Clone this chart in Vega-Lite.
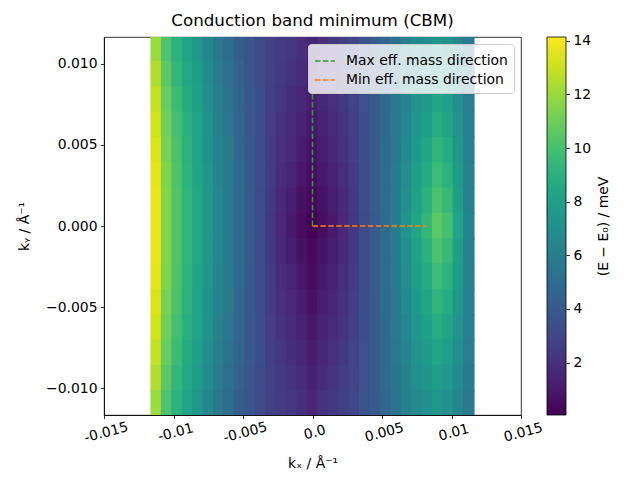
{
"$schema": "https://vega.github.io/schema/vega-lite/v6.json",
"width": 417, "height": 378,
"autosize": "none",
"padding": {"left": 104, "top": 37, "right": 119, "bottom": 65},
"config": {
  "font": "DejaVu Sans",
  "view": {"stroke": "black", "strokeWidth": 0.8},
  "axis": {"domainColor": "black", "domainWidth": 0.8, "tickColor": "black", "tickWidth": 0.8, "tickSize": 3.5, "labelColor": "black", "labelFontSize": 13.9, "labelPadding": 3.5, "titleColor": "black", "titleFontSize": 13.9, "titleFontWeight": "normal", "grid": false, "labelFont": "DejaVu Sans", "titleFont": "DejaVu Sans"},
  "legend": {"labelFont": "DejaVu Sans"}
},
"title": {"text": "Conduction band minimum (CBM)", "fontSize": 16.7, "fontWeight": "normal", "font": "DejaVu Sans", "color": "black", "offset": 4, "anchor": "middle", "frame": "group"},
"datasets": {
"dirs": [
{"d": "Max eff. mass direction", "x": 0, "y": 0, "o": 0},
{"d": "Max eff. mass direction", "x": 0, "y": 0.0082, "o": 1},
{"d": "Min eff. mass direction", "x": 0, "y": 0, "o": 0},
{"d": "Min eff. mass direction", "x": 0.0082, "y": 0, "o": 1}
],
"grid": [
{"x":-0.01125,"y":0.01092,"e":12.1},{"x":-0.0105,"y":0.01092,"e":10.2},{"x":-0.00975,"y":0.01092,"e":9.1},{"x":-0.009,"y":0.01092,"e":8.2},{"x":-0.00825,"y":0.01092,"e":7.5},{"x":-0.0075,"y":0.01092,"e":6.6},{"x":-0.00675,"y":0.01092,"e":5.7},{"x":-0.006,"y":0.01092,"e":5.0},{"x":-0.00525,"y":0.01092,"e":4.2},{"x":-0.0045,"y":0.01092,"e":3.7},{"x":-0.00375,"y":0.01092,"e":3.2},{"x":-0.003,"y":0.01092,"e":2.7},{"x":-0.00225,"y":0.01092,"e":2.5},{"x":-0.0015,"y":0.01092,"e":2.3},{"x":-0.00075,"y":0.01092,"e":1.9},{"x":0,"y":0.01092,"e":1.52},{"x":0.00075,"y":0.01092,"e":1.95},{"x":0.0015,"y":0.01092,"e":2.31},{"x":0.00225,"y":0.01092,"e":2.62},{"x":0.003,"y":0.01092,"e":2.95},{"x":0.00375,"y":0.01092,"e":3.56},{"x":0.0045,"y":0.01092,"e":4.03},{"x":0.00525,"y":0.01092,"e":4.61},{"x":0.006,"y":0.01092,"e":5.31},{"x":0.00675,"y":0.01092,"e":6.12},{"x":0.0075,"y":0.01092,"e":6.72},{"x":0.00825,"y":0.01092,"e":6.96},{"x":0.009,"y":0.01092,"e":7.42},{"x":0.00975,"y":0.01092,"e":7.13},{"x":0.0105,"y":0.01092,"e":6.56},{"x":0.01125,"y":0.01092,"e":5.76},
{"x":-0.01125,"y":0.00936,"e":12.5},{"x":-0.0105,"y":0.00936,"e":10.6},{"x":-0.00975,"y":0.00936,"e":9.4},{"x":-0.009,"y":0.00936,"e":8.5},{"x":-0.00825,"y":0.00936,"e":7.8},{"x":-0.0075,"y":0.00936,"e":6.8},{"x":-0.00675,"y":0.00936,"e":5.9},{"x":-0.006,"y":0.00936,"e":5.2},{"x":-0.00525,"y":0.00936,"e":4.4},{"x":-0.0045,"y":0.00936,"e":3.8},{"x":-0.00375,"y":0.00936,"e":3.2},{"x":-0.003,"y":0.00936,"e":2.7},{"x":-0.00225,"y":0.00936,"e":2.4},{"x":-0.0015,"y":0.00936,"e":2.1},{"x":-0.00075,"y":0.00936,"e":1.69},{"x":0,"y":0.00936,"e":1.31},{"x":0.00075,"y":0.00936,"e":1.74},{"x":0.0015,"y":0.00936,"e":2.12},{"x":0.00225,"y":0.00936,"e":2.47},{"x":0.003,"y":0.00936,"e":2.86},{"x":0.00375,"y":0.00936,"e":3.51},{"x":0.0045,"y":0.00936,"e":4.03},{"x":0.00525,"y":0.00936,"e":4.68},{"x":0.006,"y":0.00936,"e":5.47},{"x":0.00675,"y":0.00936,"e":6.27},{"x":0.0075,"y":0.00936,"e":6.96},{"x":0.00825,"y":0.00936,"e":7.3},{"x":0.009,"y":0.00936,"e":7.88},{"x":0.00975,"y":0.00936,"e":7.52},{"x":0.0105,"y":0.00936,"e":6.8},{"x":0.01125,"y":0.00936,"e":5.85},
{"x":-0.01125,"y":0.0078,"e":12.9},{"x":-0.0105,"y":0.0078,"e":10.9},{"x":-0.00975,"y":0.0078,"e":9.7},{"x":-0.009,"y":0.0078,"e":8.7},{"x":-0.00825,"y":0.0078,"e":8.0},{"x":-0.0075,"y":0.0078,"e":7.0},{"x":-0.00675,"y":0.0078,"e":6.1},{"x":-0.006,"y":0.0078,"e":5.3},{"x":-0.00525,"y":0.0078,"e":4.5},{"x":-0.0045,"y":0.0078,"e":3.9},{"x":-0.00375,"y":0.0078,"e":3.3},{"x":-0.003,"y":0.0078,"e":2.6},{"x":-0.00225,"y":0.0078,"e":2.3},{"x":-0.0015,"y":0.0078,"e":1.9},{"x":-0.00075,"y":0.0078,"e":1.49},{"x":0,"y":0.0078,"e":1.11},{"x":0.00075,"y":0.0078,"e":1.54},{"x":0.0015,"y":0.0078,"e":1.93},{"x":0.00225,"y":0.0078,"e":2.33},{"x":0.003,"y":0.0078,"e":2.77},{"x":0.00375,"y":0.0078,"e":3.46},{"x":0.0045,"y":0.0078,"e":4.04},{"x":0.00525,"y":0.0078,"e":4.75},{"x":0.006,"y":0.0078,"e":5.6},{"x":0.00675,"y":0.0078,"e":6.43},{"x":0.0075,"y":0.0078,"e":7.2},{"x":0.00825,"y":0.0078,"e":7.65},{"x":0.009,"y":0.0078,"e":8.33},{"x":0.00975,"y":0.0078,"e":7.92},{"x":0.0105,"y":0.0078,"e":7.03},{"x":0.01125,"y":0.0078,"e":5.95},
{"x":-0.01125,"y":0.00624,"e":13.2},{"x":-0.0105,"y":0.00624,"e":11.1},{"x":-0.00975,"y":0.00624,"e":9.9},{"x":-0.009,"y":0.00624,"e":8.9},{"x":-0.00825,"y":0.00624,"e":8.2},{"x":-0.0075,"y":0.00624,"e":7.2},{"x":-0.00675,"y":0.00624,"e":6.2},{"x":-0.006,"y":0.00624,"e":5.5},{"x":-0.00525,"y":0.00624,"e":4.6},{"x":-0.0045,"y":0.00624,"e":3.9},{"x":-0.00375,"y":0.00624,"e":3.3},{"x":-0.003,"y":0.00624,"e":2.6},{"x":-0.00225,"y":0.00624,"e":2.1},{"x":-0.0015,"y":0.00624,"e":1.7},{"x":-0.00075,"y":0.00624,"e":1.28},{"x":0,"y":0.00624,"e":0.9},{"x":0.00075,"y":0.00624,"e":1.33},{"x":0.0015,"y":0.00624,"e":1.75},{"x":0.00225,"y":0.00624,"e":2.18},{"x":0.003,"y":0.00624,"e":2.67},{"x":0.00375,"y":0.00624,"e":3.41},{"x":0.0045,"y":0.00624,"e":4.04},{"x":0.00525,"y":0.00624,"e":4.8},{"x":0.006,"y":0.00624,"e":5.71},{"x":0.00675,"y":0.00624,"e":6.58},{"x":0.0075,"y":0.00624,"e":7.44},{"x":0.00825,"y":0.00624,"e":8.01},{"x":0.009,"y":0.00624,"e":8.79},{"x":0.00975,"y":0.00624,"e":8.32},{"x":0.0105,"y":0.00624,"e":7.27},{"x":0.01125,"y":0.00624,"e":6.04},
{"x":-0.01125,"y":0.00468,"e":13.4},{"x":-0.0105,"y":0.00468,"e":11.3},{"x":-0.00975,"y":0.00468,"e":10.1},{"x":-0.009,"y":0.00468,"e":9.1},{"x":-0.00825,"y":0.00468,"e":8.3},{"x":-0.0075,"y":0.00468,"e":7.3},{"x":-0.00675,"y":0.00468,"e":6.4},{"x":-0.006,"y":0.00468,"e":5.6},{"x":-0.00525,"y":0.00468,"e":4.7},{"x":-0.0045,"y":0.00468,"e":4.0},{"x":-0.00375,"y":0.00468,"e":3.3},{"x":-0.003,"y":0.00468,"e":2.5},{"x":-0.00225,"y":0.00468,"e":2.0},{"x":-0.0015,"y":0.00468,"e":1.6},{"x":-0.00075,"y":0.00468,"e":1.07},{"x":0,"y":0.00468,"e":0.69},{"x":0.00075,"y":0.00468,"e":1.12},{"x":0.0015,"y":0.00468,"e":1.56},{"x":0.00225,"y":0.00468,"e":2.03},{"x":0.003,"y":0.00468,"e":2.58},{"x":0.00375,"y":0.00468,"e":3.36},{"x":0.0045,"y":0.00468,"e":4.04},{"x":0.00525,"y":0.00468,"e":4.85},{"x":0.006,"y":0.00468,"e":5.79},{"x":0.00675,"y":0.00468,"e":6.74},{"x":0.0075,"y":0.00468,"e":7.68},{"x":0.00825,"y":0.00468,"e":8.36},{"x":0.009,"y":0.00468,"e":9.23},{"x":0.00975,"y":0.00468,"e":8.71},{"x":0.0105,"y":0.00468,"e":7.49},{"x":0.01125,"y":0.00468,"e":6.12},
{"x":-0.01125,"y":0.00312,"e":13.6},{"x":-0.0105,"y":0.00312,"e":11.5},{"x":-0.00975,"y":0.00312,"e":10.2},{"x":-0.009,"y":0.00312,"e":9.2},{"x":-0.00825,"y":0.00312,"e":8.4},{"x":-0.0075,"y":0.00312,"e":7.4},{"x":-0.00675,"y":0.00312,"e":6.4},{"x":-0.006,"y":0.00312,"e":5.6},{"x":-0.00525,"y":0.00312,"e":4.8},{"x":-0.0045,"y":0.00312,"e":4.0},{"x":-0.00375,"y":0.00312,"e":3.3},{"x":-0.003,"y":0.00312,"e":2.5},{"x":-0.00225,"y":0.00312,"e":1.9},{"x":-0.0015,"y":0.00312,"e":1.4},{"x":-0.00075,"y":0.00312,"e":0.86},{"x":0,"y":0.00312,"e":0.48},{"x":0.00075,"y":0.00312,"e":0.91},{"x":0.0015,"y":0.00312,"e":1.37},{"x":0.00225,"y":0.00312,"e":1.89},{"x":0.003,"y":0.00312,"e":2.49},{"x":0.00375,"y":0.00312,"e":3.3},{"x":0.0045,"y":0.00312,"e":4.03},{"x":0.00525,"y":0.00312,"e":4.88},{"x":0.006,"y":0.00312,"e":5.85},{"x":0.00675,"y":0.00312,"e":6.89},{"x":0.0075,"y":0.00312,"e":7.92},{"x":0.00825,"y":0.00312,"e":8.7},{"x":0.009,"y":0.00312,"e":9.69},{"x":0.00975,"y":0.00312,"e":9.11},{"x":0.0105,"y":0.00312,"e":7.73},{"x":0.01125,"y":0.00312,"e":6.21},
{"x":-0.01125,"y":0.00156,"e":13.7},{"x":-0.0105,"y":0.00156,"e":11.6},{"x":-0.00975,"y":0.00156,"e":10.3},{"x":-0.009,"y":0.00156,"e":9.3},{"x":-0.00825,"y":0.00156,"e":8.5},{"x":-0.0075,"y":0.00156,"e":7.5},{"x":-0.00675,"y":0.00156,"e":6.5},{"x":-0.006,"y":0.00156,"e":5.7},{"x":-0.00525,"y":0.00156,"e":4.8},{"x":-0.0045,"y":0.00156,"e":4.0},{"x":-0.00375,"y":0.00156,"e":3.2},{"x":-0.003,"y":0.00156,"e":2.4},{"x":-0.00225,"y":0.00156,"e":1.7},{"x":-0.0015,"y":0.00156,"e":1.2},{"x":-0.00075,"y":0.00156,"e":0.66},{"x":0,"y":0.00156,"e":0.28},{"x":0.00075,"y":0.00156,"e":0.71},{"x":0.0015,"y":0.00156,"e":1.19},{"x":0.00225,"y":0.00156,"e":1.74},{"x":0.003,"y":0.00156,"e":2.39},{"x":0.00375,"y":0.00156,"e":3.25},{"x":0.0045,"y":0.00156,"e":4.02},{"x":0.00525,"y":0.00156,"e":4.89},{"x":0.006,"y":0.00156,"e":5.89},{"x":0.00675,"y":0.00156,"e":7.05},{"x":0.0075,"y":0.00156,"e":8.16},{"x":0.00825,"y":0.00156,"e":9.05},{"x":0.009,"y":0.00156,"e":10.14},{"x":0.00975,"y":0.00156,"e":9.5},{"x":0.0105,"y":0.00156,"e":7.96},{"x":0.01125,"y":0.00156,"e":6.31},
{"x":-0.01125,"y":0,"e":13.7},{"x":-0.0105,"y":0,"e":11.6},{"x":-0.00975,"y":0,"e":10.3},{"x":-0.009,"y":0,"e":9.3},{"x":-0.00825,"y":0,"e":8.5},{"x":-0.0075,"y":0,"e":7.5},{"x":-0.00675,"y":0,"e":6.5},{"x":-0.006,"y":0,"e":5.7},{"x":-0.00525,"y":0,"e":4.8},{"x":-0.0045,"y":0,"e":4.0},{"x":-0.00375,"y":0,"e":3.2},{"x":-0.003,"y":0,"e":2.3},{"x":-0.00225,"y":0,"e":1.6},{"x":-0.0015,"y":0,"e":1.0},{"x":-0.00075,"y":0,"e":0.45},{"x":0,"y":0,"e":0.07},{"x":0.00075,"y":0,"e":0.5},{"x":0.0015,"y":0,"e":1.0},{"x":0.00225,"y":0,"e":1.6},{"x":0.003,"y":0,"e":2.3},{"x":0.00375,"y":0,"e":3.2},{"x":0.0045,"y":0,"e":4.0},{"x":0.00525,"y":0,"e":4.9},{"x":0.006,"y":0,"e":5.9},{"x":0.00675,"y":0,"e":7.2},{"x":0.0075,"y":0,"e":8.4},{"x":0.00825,"y":0,"e":9.4},{"x":0.009,"y":0,"e":10.6},{"x":0.00975,"y":0,"e":9.9},{"x":0.0105,"y":0,"e":8.2},{"x":0.01125,"y":0,"e":6.4},
{"x":-0.01125,"y":-0.00156,"e":13.7},{"x":-0.0105,"y":-0.00156,"e":11.6},{"x":-0.00975,"y":-0.00156,"e":10.3},{"x":-0.009,"y":-0.00156,"e":9.3},{"x":-0.00825,"y":-0.00156,"e":8.5},{"x":-0.0075,"y":-0.00156,"e":7.5},{"x":-0.00675,"y":-0.00156,"e":6.5},{"x":-0.006,"y":-0.00156,"e":5.7},{"x":-0.00525,"y":-0.00156,"e":4.8},{"x":-0.0045,"y":-0.00156,"e":4.0},{"x":-0.00375,"y":-0.00156,"e":3.2},{"x":-0.003,"y":-0.00156,"e":2.4},{"x":-0.00225,"y":-0.00156,"e":1.7},{"x":-0.0015,"y":-0.00156,"e":1.2},{"x":-0.00075,"y":-0.00156,"e":0.66},{"x":0,"y":-0.00156,"e":0.28},{"x":0.00075,"y":-0.00156,"e":0.71},{"x":0.0015,"y":-0.00156,"e":1.19},{"x":0.00225,"y":-0.00156,"e":1.74},{"x":0.003,"y":-0.00156,"e":2.39},{"x":0.00375,"y":-0.00156,"e":3.25},{"x":0.0045,"y":-0.00156,"e":4.02},{"x":0.00525,"y":-0.00156,"e":4.89},{"x":0.006,"y":-0.00156,"e":5.89},{"x":0.00675,"y":-0.00156,"e":7.05},{"x":0.0075,"y":-0.00156,"e":8.16},{"x":0.00825,"y":-0.00156,"e":9.05},{"x":0.009,"y":-0.00156,"e":10.14},{"x":0.00975,"y":-0.00156,"e":9.5},{"x":0.0105,"y":-0.00156,"e":7.96},{"x":0.01125,"y":-0.00156,"e":6.31},
{"x":-0.01125,"y":-0.00312,"e":13.6},{"x":-0.0105,"y":-0.00312,"e":11.5},{"x":-0.00975,"y":-0.00312,"e":10.2},{"x":-0.009,"y":-0.00312,"e":9.2},{"x":-0.00825,"y":-0.00312,"e":8.4},{"x":-0.0075,"y":-0.00312,"e":7.4},{"x":-0.00675,"y":-0.00312,"e":6.4},{"x":-0.006,"y":-0.00312,"e":5.6},{"x":-0.00525,"y":-0.00312,"e":4.8},{"x":-0.0045,"y":-0.00312,"e":4.0},{"x":-0.00375,"y":-0.00312,"e":3.3},{"x":-0.003,"y":-0.00312,"e":2.5},{"x":-0.00225,"y":-0.00312,"e":1.9},{"x":-0.0015,"y":-0.00312,"e":1.4},{"x":-0.00075,"y":-0.00312,"e":0.86},{"x":0,"y":-0.00312,"e":0.48},{"x":0.00075,"y":-0.00312,"e":0.91},{"x":0.0015,"y":-0.00312,"e":1.37},{"x":0.00225,"y":-0.00312,"e":1.89},{"x":0.003,"y":-0.00312,"e":2.49},{"x":0.00375,"y":-0.00312,"e":3.3},{"x":0.0045,"y":-0.00312,"e":4.03},{"x":0.00525,"y":-0.00312,"e":4.88},{"x":0.006,"y":-0.00312,"e":5.85},{"x":0.00675,"y":-0.00312,"e":6.89},{"x":0.0075,"y":-0.00312,"e":7.92},{"x":0.00825,"y":-0.00312,"e":8.7},{"x":0.009,"y":-0.00312,"e":9.69},{"x":0.00975,"y":-0.00312,"e":9.11},{"x":0.0105,"y":-0.00312,"e":7.73},{"x":0.01125,"y":-0.00312,"e":6.21},
{"x":-0.01125,"y":-0.00468,"e":13.4},{"x":-0.0105,"y":-0.00468,"e":11.3},{"x":-0.00975,"y":-0.00468,"e":10.1},{"x":-0.009,"y":-0.00468,"e":9.1},{"x":-0.00825,"y":-0.00468,"e":8.3},{"x":-0.0075,"y":-0.00468,"e":7.3},{"x":-0.00675,"y":-0.00468,"e":6.4},{"x":-0.006,"y":-0.00468,"e":5.6},{"x":-0.00525,"y":-0.00468,"e":4.7},{"x":-0.0045,"y":-0.00468,"e":4.0},{"x":-0.00375,"y":-0.00468,"e":3.3},{"x":-0.003,"y":-0.00468,"e":2.5},{"x":-0.00225,"y":-0.00468,"e":2.0},{"x":-0.0015,"y":-0.00468,"e":1.6},{"x":-0.00075,"y":-0.00468,"e":1.07},{"x":0,"y":-0.00468,"e":0.69},{"x":0.00075,"y":-0.00468,"e":1.12},{"x":0.0015,"y":-0.00468,"e":1.56},{"x":0.00225,"y":-0.00468,"e":2.03},{"x":0.003,"y":-0.00468,"e":2.58},{"x":0.00375,"y":-0.00468,"e":3.36},{"x":0.0045,"y":-0.00468,"e":4.04},{"x":0.00525,"y":-0.00468,"e":4.85},{"x":0.006,"y":-0.00468,"e":5.79},{"x":0.00675,"y":-0.00468,"e":6.74},{"x":0.0075,"y":-0.00468,"e":7.68},{"x":0.00825,"y":-0.00468,"e":8.36},{"x":0.009,"y":-0.00468,"e":9.23},{"x":0.00975,"y":-0.00468,"e":8.71},{"x":0.0105,"y":-0.00468,"e":7.49},{"x":0.01125,"y":-0.00468,"e":6.12},
{"x":-0.01125,"y":-0.00624,"e":13.2},{"x":-0.0105,"y":-0.00624,"e":11.1},{"x":-0.00975,"y":-0.00624,"e":9.9},{"x":-0.009,"y":-0.00624,"e":8.9},{"x":-0.00825,"y":-0.00624,"e":8.2},{"x":-0.0075,"y":-0.00624,"e":7.2},{"x":-0.00675,"y":-0.00624,"e":6.2},{"x":-0.006,"y":-0.00624,"e":5.5},{"x":-0.00525,"y":-0.00624,"e":4.6},{"x":-0.0045,"y":-0.00624,"e":3.9},{"x":-0.00375,"y":-0.00624,"e":3.3},{"x":-0.003,"y":-0.00624,"e":2.6},{"x":-0.00225,"y":-0.00624,"e":2.1},{"x":-0.0015,"y":-0.00624,"e":1.7},{"x":-0.00075,"y":-0.00624,"e":1.28},{"x":0,"y":-0.00624,"e":0.9},{"x":0.00075,"y":-0.00624,"e":1.33},{"x":0.0015,"y":-0.00624,"e":1.75},{"x":0.00225,"y":-0.00624,"e":2.18},{"x":0.003,"y":-0.00624,"e":2.67},{"x":0.00375,"y":-0.00624,"e":3.41},{"x":0.0045,"y":-0.00624,"e":4.04},{"x":0.00525,"y":-0.00624,"e":4.8},{"x":0.006,"y":-0.00624,"e":5.71},{"x":0.00675,"y":-0.00624,"e":6.58},{"x":0.0075,"y":-0.00624,"e":7.44},{"x":0.00825,"y":-0.00624,"e":8.01},{"x":0.009,"y":-0.00624,"e":8.79},{"x":0.00975,"y":-0.00624,"e":8.32},{"x":0.0105,"y":-0.00624,"e":7.27},{"x":0.01125,"y":-0.00624,"e":6.04},
{"x":-0.01125,"y":-0.0078,"e":12.9},{"x":-0.0105,"y":-0.0078,"e":10.9},{"x":-0.00975,"y":-0.0078,"e":9.7},{"x":-0.009,"y":-0.0078,"e":8.7},{"x":-0.00825,"y":-0.0078,"e":8.0},{"x":-0.0075,"y":-0.0078,"e":7.0},{"x":-0.00675,"y":-0.0078,"e":6.1},{"x":-0.006,"y":-0.0078,"e":5.3},{"x":-0.00525,"y":-0.0078,"e":4.5},{"x":-0.0045,"y":-0.0078,"e":3.9},{"x":-0.00375,"y":-0.0078,"e":3.3},{"x":-0.003,"y":-0.0078,"e":2.6},{"x":-0.00225,"y":-0.0078,"e":2.3},{"x":-0.0015,"y":-0.0078,"e":1.9},{"x":-0.00075,"y":-0.0078,"e":1.49},{"x":0,"y":-0.0078,"e":1.11},{"x":0.00075,"y":-0.0078,"e":1.54},{"x":0.0015,"y":-0.0078,"e":1.93},{"x":0.00225,"y":-0.0078,"e":2.33},{"x":0.003,"y":-0.0078,"e":2.77},{"x":0.00375,"y":-0.0078,"e":3.46},{"x":0.0045,"y":-0.0078,"e":4.04},{"x":0.00525,"y":-0.0078,"e":4.75},{"x":0.006,"y":-0.0078,"e":5.6},{"x":0.00675,"y":-0.0078,"e":6.43},{"x":0.0075,"y":-0.0078,"e":7.2},{"x":0.00825,"y":-0.0078,"e":7.65},{"x":0.009,"y":-0.0078,"e":8.33},{"x":0.00975,"y":-0.0078,"e":7.92},{"x":0.0105,"y":-0.0078,"e":7.03},{"x":0.01125,"y":-0.0078,"e":5.95},
{"x":-0.01125,"y":-0.00936,"e":12.5},{"x":-0.0105,"y":-0.00936,"e":10.6},{"x":-0.00975,"y":-0.00936,"e":9.4},{"x":-0.009,"y":-0.00936,"e":8.5},{"x":-0.00825,"y":-0.00936,"e":7.8},{"x":-0.0075,"y":-0.00936,"e":6.8},{"x":-0.00675,"y":-0.00936,"e":5.9},{"x":-0.006,"y":-0.00936,"e":5.2},{"x":-0.00525,"y":-0.00936,"e":4.4},{"x":-0.0045,"y":-0.00936,"e":3.8},{"x":-0.00375,"y":-0.00936,"e":3.2},{"x":-0.003,"y":-0.00936,"e":2.7},{"x":-0.00225,"y":-0.00936,"e":2.4},{"x":-0.0015,"y":-0.00936,"e":2.1},{"x":-0.00075,"y":-0.00936,"e":1.69},{"x":0,"y":-0.00936,"e":1.31},{"x":0.00075,"y":-0.00936,"e":1.74},{"x":0.0015,"y":-0.00936,"e":2.12},{"x":0.00225,"y":-0.00936,"e":2.47},{"x":0.003,"y":-0.00936,"e":2.86},{"x":0.00375,"y":-0.00936,"e":3.51},{"x":0.0045,"y":-0.00936,"e":4.03},{"x":0.00525,"y":-0.00936,"e":4.68},{"x":0.006,"y":-0.00936,"e":5.47},{"x":0.00675,"y":-0.00936,"e":6.27},{"x":0.0075,"y":-0.00936,"e":6.96},{"x":0.00825,"y":-0.00936,"e":7.3},{"x":0.009,"y":-0.00936,"e":7.88},{"x":0.00975,"y":-0.00936,"e":7.52},{"x":0.0105,"y":-0.00936,"e":6.8},{"x":0.01125,"y":-0.00936,"e":5.85},
{"x":-0.01125,"y":-0.01092,"e":12.1},{"x":-0.0105,"y":-0.01092,"e":10.2},{"x":-0.00975,"y":-0.01092,"e":9.1},{"x":-0.009,"y":-0.01092,"e":8.2},{"x":-0.00825,"y":-0.01092,"e":7.5},{"x":-0.0075,"y":-0.01092,"e":6.6},{"x":-0.00675,"y":-0.01092,"e":5.7},{"x":-0.006,"y":-0.01092,"e":5.0},{"x":-0.00525,"y":-0.01092,"e":4.2},{"x":-0.0045,"y":-0.01092,"e":3.7},{"x":-0.00375,"y":-0.01092,"e":3.2},{"x":-0.003,"y":-0.01092,"e":2.7},{"x":-0.00225,"y":-0.01092,"e":2.5},{"x":-0.0015,"y":-0.01092,"e":2.3},{"x":-0.00075,"y":-0.01092,"e":1.9},{"x":0,"y":-0.01092,"e":1.52},{"x":0.00075,"y":-0.01092,"e":1.95},{"x":0.0015,"y":-0.01092,"e":2.31},{"x":0.00225,"y":-0.01092,"e":2.62},{"x":0.003,"y":-0.01092,"e":2.95},{"x":0.00375,"y":-0.01092,"e":3.56},{"x":0.0045,"y":-0.01092,"e":4.03},{"x":0.00525,"y":-0.01092,"e":4.61},{"x":0.006,"y":-0.01092,"e":5.31},{"x":0.00675,"y":-0.01092,"e":6.12},{"x":0.0075,"y":-0.01092,"e":6.72},{"x":0.00825,"y":-0.01092,"e":6.96},{"x":0.009,"y":-0.01092,"e":7.42},{"x":0.00975,"y":-0.01092,"e":7.13},{"x":0.0105,"y":-0.01092,"e":6.56},{"x":0.01125,"y":-0.01092,"e":5.76}
]
},
"layer": [
  {
    "layer": [
      {
        "data": {"name": "grid"},
        "mark": {"type": "rect", "width": 11.4, "height": 26.4, "clip": true},
        "encoding": {
          "x": {"field": "x", "type": "quantitative", "scale": {"domain": [-0.015, 0.015], "nice": false, "zero": false},
                "axis": {"values": [-0.015, -0.01, -0.005, 0, 0.005, 0.01, 0.015], "labelExpr": "datum.value == 0 ? '0.0' : '' + datum.value", "labelAngle": -15, "labelAlign": "center", "labelBaseline": "top", "labelPadding": 7, "title": "kₓ / Å⁻¹", "titlePadding": 12}},
          "y": {"field": "y", "type": "quantitative", "scale": {"domain": [-0.01164, 0.01164], "nice": false, "zero": false},
                "axis": {"values": [-0.01, -0.005, 0, 0.005, 0.01], "format": ".3f", "title": "kᵧ / Å⁻¹", "titlePadding": 14}},
          "fill": {"field": "e", "type": "quantitative", "scale": {"scheme": "viridis", "domain": [0.045, 14.14], "nice": false, "zero": false},
                   "legend": {"orient": "none", "legendX": 443, "legendY": 0, "direction": "vertical", "gradientLength": 378, "gradientThickness": 19, "title": null, "labelExpr": "''", "labelOpacity": 0, "gradientStrokeColor": "black", "gradientStrokeWidth": 0.8, "padding": 0}}
        }
      },
      {
        "data": {"name": "dirs"},
        "mark": {"type": "line", "strokeDash": [5.5, 2.4], "strokeWidth": 1.5},
        "encoding": {
          "x": {"field": "x", "type": "quantitative"},
          "y": {"field": "y", "type": "quantitative"},
          "order": {"field": "o", "type": "quantitative"},
          "stroke": {"field": "d", "type": "nominal", "scale": {"domain": ["Max eff. mass direction", "Min eff. mass direction"], "range": ["#2ca02c", "#ff7f0e"]},
                     "legend": {"title": null, "orient": "top-right", "offset": 7, "symbolType": "stroke", "symbolSize": 400, "symbolStrokeWidth": 1.5, "symbolDash": [5.5, 2.4], "labelFontSize": 13.9, "labelColor": "black", "labelOffset": 10, "labelLimit": 300, "fillColor": "rgba(255,255,255,0.8)", "strokeColor": "#cccccc", "cornerRadius": 3, "padding": 6, "rowPadding": 1}}
        }
      }
    ]
  },
  {
    "data": {"name": "grid"},
    "mark": {"type": "point", "opacity": 0},
    "encoding": {
      "x": {"field": "x", "type": "quantitative"},
      "y": {"field": "e", "type": "quantitative", "scale": {"domain": [0.045, 14.14], "nice": false, "zero": false},
            "axis": {"orient": "right", "offset": 45, "values": [2, 4, 6, 8, 10, 12, 14], "domain": false, "title": "(E − E₀) / meV", "titleAngle": -90, "titleBaseline": "top", "titlePadding": 6}}
    }
  }
],
"resolve": {"scale": {"y": "independent"}}
}
